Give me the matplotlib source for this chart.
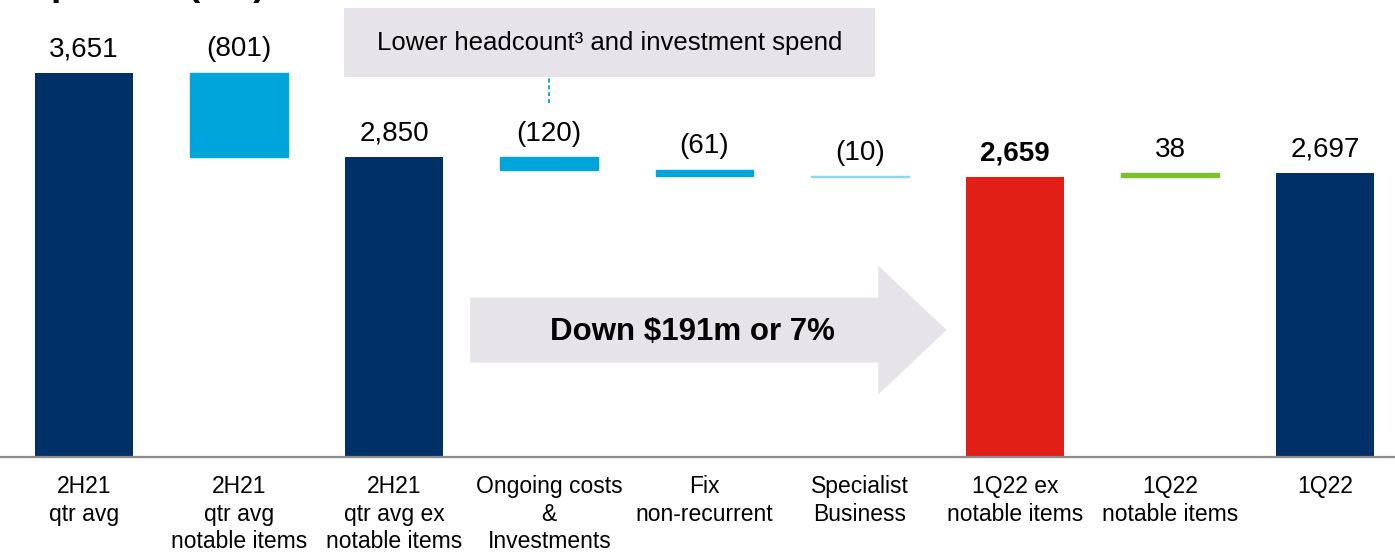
import matplotlib

matplotlib.use("Agg")
import matplotlib.pyplot as plt
from matplotlib.patches import FancyArrow, Rectangle

plt.rcParams["font.family"] = ["Liberation Sans", "DejaVu Sans"]

# waterfall data ($m)
categories = [
    "2H21\nqtr avg",
    "2H21\nqtr avg\nnotable items",
    "2H21\nqtr avg ex\nnotable items",
    "Ongoing costs\n&\nInvestments",
    "Fix\nnon-recurrent",
    "Specialist\nBusiness",
    "1Q22 ex\nnotable items",
    "1Q22\nnotable items",
    "1Q22",
]
values = [3651, -801, 2850, -120, -61, -10, 2659, 38, 2697]
is_total = [True, False, True, False, False, False, True, False, True]
value_labels = ["3,651", "(801)", "2,850", "(120)", "(61)", "(10)", "2,659", "38", "2,697"]
bold_label = [False, False, False, False, False, False, True, False, False]

NAVY = "#003068"
BLUE = "#00A5DC"
PALE = "#8ED5F2"
RED = "#E21F16"
GREEN = "#7BC12C"
GREY_BOX = "#E6E4E8"
colors = [NAVY, BLUE, NAVY, BLUE, BLUE, PALE, RED, GREEN, NAVY]

fig = plt.figure(figsize=(13.95, 5.52), dpi=100)
ax = fig.add_axes([0, 95 / 552, 1, 457 / 552])

running = 0
for i, (v, tot) in enumerate(zip(values, is_total)):
    if tot:
        bottom, height = 0, v
        running = v
    else:
        bottom = running if v > 0 else running + v
        height = abs(v)
        running += v
    ax.bar(i, height, bottom=bottom, width=0.63, color=colors[i],
           edgecolor=colors[i], linewidth=1.0 if not tot else 0, zorder=3)
    ax.annotate(value_labels[i], (i, bottom + height), xytext=(0, 12),
                textcoords="offset points", ha="center", va="baseline",
                fontsize=20, fontweight="bold" if bold_label[i] else "normal")

ax.set_xlim(-0.54, 8.45)
ax.set_ylim(0, 4344)
ax.set_xticks(range(len(categories)))
ax.set_xticklabels(categories, fontsize=16.5, linespacing=1.25)
ax.tick_params(axis="x", length=0, pad=13)
ax.set_yticks([])
for s in ["top", "left", "right"]:
    ax.spines[s].set_visible(False)
ax.spines["bottom"].set_color("#8C8C8C")
ax.spines["bottom"].set_linewidth(1.6)
ax.spines["bottom"].set_zorder(4)

# callout box over the cost bars
ax.add_patch(Rectangle((1.68, 3612), 3.42, 656, facecolor=GREY_BOX, edgecolor="none",
                       zorder=2, clip_on=False))
ax.text(3.39, 3935, "Lower headcount³ and investment spend", ha="center",
        va="center", fontsize=18.5, zorder=4)
ax.plot([3, 3], [3365, 3612], ls=(0, (2.2, 1.6)), color=BLUE, lw=1.3, zorder=2)

# big arrow
ax.add_patch(FancyArrow(2.49, 1207, 3.07, 0, width=618, head_width=1226,
                        head_length=0.44, length_includes_head=True,
                        facecolor=GREY_BOX, edgecolor="none", zorder=2))
ax.text(3.92, 1185, "Down $191m or 7%", ha="center", va="center", fontsize=22.5,
        fontweight="bold", zorder=4)

# title, cut off at the top of the slide crop
fig.text(0.004, 1.009, "Expenses ($m)", ha="left", va="baseline", fontsize=26.5,
         fontweight="bold")

fig.savefig("out.png", dpi=100)
